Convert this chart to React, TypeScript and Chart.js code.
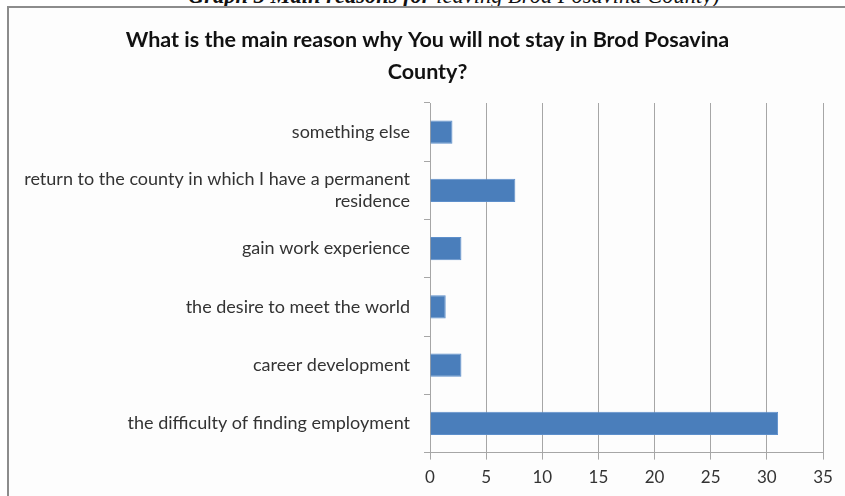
import React, { useEffect, useRef } from "react";
import { Chart, registerables } from "chart.js";

Chart.register(...registerables);

const categories: (string | string[])[] = [
  "something else",
  ["return to the county in which I have a permanent", "residence"],
  "gain work experience",
  "the desire to meet the world",
  "career development",
  "the difficulty of finding employment",
];
const values = [2.0, 7.6, 2.8, 1.4, 2.8, 31.0];
const titleLines = ["What is the main reason why You will not stay in Brod Posavina", "County?"];
const captionBold = "Graph 3 Main reasons for";
const captionRest = " leaving Brod Posavina County)";
const xMin = 0;
const xMax = 35;
const xStep = 5;

const unclipLabels = {
  id: "unclipLabels",
  afterLayout(chart: any) {
    const y = chart.scales && chart.scales.y;
    if (y) y.left = 0;
  },
};

export default function App() {
  const ref = useRef<HTMLCanvasElement | null>(null);

  useEffect(() => {
    if (!ref.current) return;
    const chart = new Chart(ref.current, {
      type: "bar",
      data: {
        labels: categories,
        datasets: [
          {
            data: values,
            backgroundColor: "#4a7ebb",
            borderColor: "#5d8fcb",
            borderWidth: 1,
            barPercentage: 0.4,
            categoryPercentage: 1,
          },
        ],
      },
      plugins: [unclipLabels],
      options: {
        indexAxis: "y",
        animation: false,
        responsive: false,
        maintainAspectRatio: false,
        layout: { padding: { top: 10, left: 32, right: 22, bottom: 0 } },
        plugins: {
          legend: { display: false },
          tooltip: { enabled: false },
          title: {
            display: true,
            text: titleLines,
            color: "#111",
            font: { family: "Lato", size: 21.5, weight: "bold", lineHeight: 1.5 },
            padding: { top: 14, bottom: 14.5 },
          },
        },
        scales: {
          x: {
            min: xMin,
            max: xMax,
            ticks: {
              stepSize: xStep,
              color: "#333",
              font: { family: "Lato", size: 17 },
              padding: 8,
            },
            grid: { color: "#a6a6a6", lineWidth: 1, tickLength: 7, tickColor: "#a6a6a6" },
            border: { color: "#a6a6a6", width: 1 },
          },
          y: {
            ticks: {
              color: "#333",
              font: { family: "Lato", size: 18, lineHeight: 1.2 },
              padding: 14,
            },
            grid: {
              drawOnChartArea: false,
              drawTicks: true,
              tickLength: 6,
              color: "#a6a6a6",
              offset: true,
            },
            border: { color: "#a6a6a6", width: 1 },
            afterFit: (scale: any) => {
              scale.width = 398;
            },
          },
        },
      },
    });
    return () => chart.destroy();
  }, []);

  return (
    <div
      style={{
        position: "fixed",
        left: 0,
        top: 0,
        width: 845,
        height: 496,
        overflow: "hidden",
        background: "#fff",
      }}
    >
      <div
        style={{
          position: "absolute",
          left: 188,
          top: -15.5,
          whiteSpace: "nowrap",
          fontFamily: "'Liberation Serif', serif",
          fontStyle: "italic",
          fontSize: 22.5,
          lineHeight: "22px",
          color: "#111",
        }}
      >
        <b>{captionBold}</b>
        {captionRest}
      </div>
      <div
        style={{
          position: "absolute",
          left: 7,
          top: 6,
          width: 850,
          height: 500,
          border: "2px solid #8c8c8c",
          background: "#fdfdfd",
        }}
      />
      <canvas
        ref={ref}
        width={845}
        height={496}
        style={{ position: "absolute", left: 0, top: 0, width: 845, height: 496 }}
      />
    </div>
  );
}
